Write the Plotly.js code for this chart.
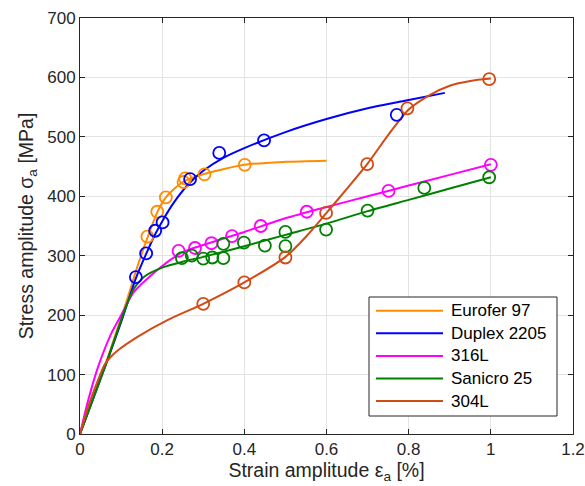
<!DOCTYPE html>
<html>
<head>
<meta charset="utf-8">
<script src="https://cdn.plot.ly/plotly-3.0.1.min.js"></script>
<style>
  html, body { margin: 0; padding: 0; background: #fff; }
  #chart { width: 585px; height: 486px; }
</style>
</head>
<body>
<div id="chart"></div>
<script>
// Cyclic stress-strain curves (fitted) and test points for five steels.
// Strain amplitude in %, stress amplitude in MPa.

const materials = ['Eurofer 97', 'Duplex 2205', '316L', 'Sanicro 25', '304L'];
const colors = ['#FF8C00', '#0000FF', '#FF00FF', '#008000', '#D24A14'];

// Fitted curves
const eurCurveStrain = [0, 0.068, 0.109, 0.137, 0.164, 0.188, 0.209, 0.25, 0.3, 0.4, 0.5, 0.6];
const eurCurveStress = [0, 130, 214, 276, 330, 373, 398, 424, 437, 453, 458, 460];

const dupCurveStrain = [0, 0.064, 0.1, 0.136, 0.161, 0.183, 0.201, 0.23, 0.266, 0.3, 0.35, 0.4, 0.5, 0.6, 0.7, 0.8, 0.888];
const dupCurveStress = [0, 119, 188, 262, 303, 336, 359, 391, 422, 443, 465, 481, 508, 530, 548, 562, 574];

const ssCurveStrain = [0, 0.02, 0.044, 0.076, 0.105, 0.129, 0.157, 0.214, 0.25, 0.3, 0.4, 0.5, 0.6, 0.7, 0.8, 0.9, 1.0];
const ssCurveStress = [0, 57, 113, 169, 206, 237, 257, 290, 306, 318, 340, 363, 382, 400, 418, 436, 454];

const sanCurveStrain = [0, 0.064, 0.109, 0.129, 0.157, 0.2, 0.25, 0.3, 0.4, 0.5, 0.6, 0.7, 0.8, 0.9, 1.0];
const sanCurveStress = [0, 119, 209, 242, 265, 280, 290, 298, 316, 335, 354, 375, 394, 413, 432];

const s304CurveStrain = [0, 0.02, 0.044, 0.06, 0.075, 0.0925, 0.141, 0.214, 0.3, 0.4, 0.5, 0.55, 0.6, 0.65, 0.7, 0.75, 0.8, 0.85, 0.9, 0.95, 1.0];
const s304CurveStress = [0, 46, 91, 117, 130, 141, 164, 192, 219, 255, 298, 332, 372, 413, 455, 503, 546, 570, 586, 594, 598];

// Test points
const eurTestStrain = [0.164, 0.188, 0.209, 0.252, 0.256, 0.303, 0.401];
const eurTestStress = [332, 374, 398, 424, 430, 437, 453];

const dupTestStrain = [0.136, 0.161, 0.183, 0.201, 0.268, 0.339, 0.448, 0.771];
const dupTestStress = [264, 304, 342, 356, 429, 473, 494, 537];

const ssTestStrain = [0.240, 0.280, 0.320, 0.370, 0.440, 0.552, 0.751, 1.0];
const ssTestStress = [308, 313, 321, 333, 350, 374, 409, 453];

const sanTestStrain = [0.248, 0.272, 0.300, 0.322, 0.349, 0.349, 0.399, 0.450, 0.500, 0.500, 0.599, 0.700, 0.838, 0.996];
const sanTestStress = [296, 300, 295, 297, 296, 320, 322, 317, 340, 316, 344, 376, 414, 432];

const s304TestStrain = [0.300, 0.400, 0.500, 0.599, 0.699, 0.797, 0.996];
const s304TestStress = [219, 255, 297, 372, 454, 548, 597];

// Axis ticks
const xTicks = [0, 0.2, 0.4, 0.6, 0.8, 1, 1.2];
const xTickText = ['0', '0.2', '0.4', '0.6', '0.8', '1', '1.2'];
const yTicks = [0, 100, 200, 300, 400, 500, 600, 700];

const curves = [
  [eurCurveStrain, eurCurveStress],
  [dupCurveStrain, dupCurveStress],
  [ssCurveStrain, ssCurveStress],
  [sanCurveStrain, sanCurveStress],
  [s304CurveStrain, s304CurveStress]
];
const tests = [
  [eurTestStrain, eurTestStress],
  [dupTestStrain, dupTestStress],
  [ssTestStrain, ssTestStress],
  [sanTestStrain, sanTestStress],
  [s304TestStrain, s304TestStress]
];

const FONT = 'Liberation Sans, Arial, Helvetica, sans-serif';
const INK = '#262626';

const traces = [];
materials.forEach((name, i) => {
  traces.push({
    type: 'scatter', mode: 'lines', name: name,
    x: curves[i][0], y: curves[i][1], showlegend: false,
    line: { color: colors[i], width: 2, shape: 'spline', smoothing: 0.7 },
    hoverinfo: 'skip'
  });
});
materials.forEach((name, i) => {
  traces.push({
    type: 'scatter', mode: 'markers', name: name + ' test',
    x: tests[i][0], y: tests[i][1], showlegend: false,
    marker: { symbol: 'circle-open', size: 12, color: colors[i], line: { width: 1.8, color: colors[i] } }
  });
});

// Legend box drawn in paper coordinates (plot area spans 80..573 px, 18..434 px)
const plotL = 80, plotR = 573, plotT = 18, plotB = 434;
const px2x = p => (p - plotL) / (plotR - plotL);
const px2y = p => (plotB - p) / (plotB - plotT);

const legendBox = { left: 369, right: 557, top: 297, bottom: 416 };
const legendLine = { x0: 376, x1: 443, textX: 449, firstRow: 310.7, rowStep: 22.6 };

const shapes = [{
  type: 'rect', xref: 'paper', yref: 'paper',
  x0: px2x(legendBox.left), x1: px2x(legendBox.right),
  y0: px2y(legendBox.bottom), y1: px2y(legendBox.top),
  line: { color: INK, width: 1 }, fillcolor: '#fff', layer: 'above'
}];
const annotations = [];
materials.forEach((name, i) => {
  const rowY = px2y(legendLine.firstRow + i * legendLine.rowStep);
  shapes.push({
    type: 'line', xref: 'paper', yref: 'paper',
    x0: px2x(legendLine.x0), x1: px2x(legendLine.x1), y0: rowY, y1: rowY,
    line: { color: colors[i], width: 2 }, layer: 'above'
  });
  annotations.push({
    xref: 'paper', yref: 'paper', x: px2x(legendLine.textX), y: rowY,
    xanchor: 'left', yanchor: 'middle', showarrow: false,
    text: name, font: { family: FONT, size: 17, color: '#000' }
  });
});

const axisCommon = {
  showline: true, linecolor: INK, linewidth: 1, mirror: 'ticks',
  ticks: 'inside', ticklen: 5, tickwidth: 1, tickcolor: INK,
  showgrid: true, gridcolor: '#E3E3E3', gridwidth: 1, zeroline: false,
  tickfont: { family: FONT, size: 17, color: INK }
};

const layout = {
  width: 585, height: 486,
  margin: { l: plotL, r: 585 - plotR, t: plotT, b: 486 - plotB },
  paper_bgcolor: '#fff', plot_bgcolor: '#fff',
  font: { family: FONT, color: INK },
  xaxis: Object.assign({}, axisCommon, {
    range: [0, 1.2], tickvals: xTicks, ticktext: xTickText,
    title: { text: 'Strain amplitude ε<sub>a</sub> [%]', font: { family: FONT, size: 19.5, color: INK }, standoff: 4 }
  }),
  yaxis: Object.assign({}, axisCommon, {
    range: [0, 700], tickvals: yTicks,
    title: { text: 'Stress amplitude σ<sub>a</sub> [MPa]', font: { family: FONT, size: 19.5, color: INK }, standoff: 8 }
  }),
  shapes: shapes,
  annotations: annotations,
  showlegend: false
};

Plotly.newPlot('chart', traces, layout, { staticPlot: true });
</script>
</body>
</html>
